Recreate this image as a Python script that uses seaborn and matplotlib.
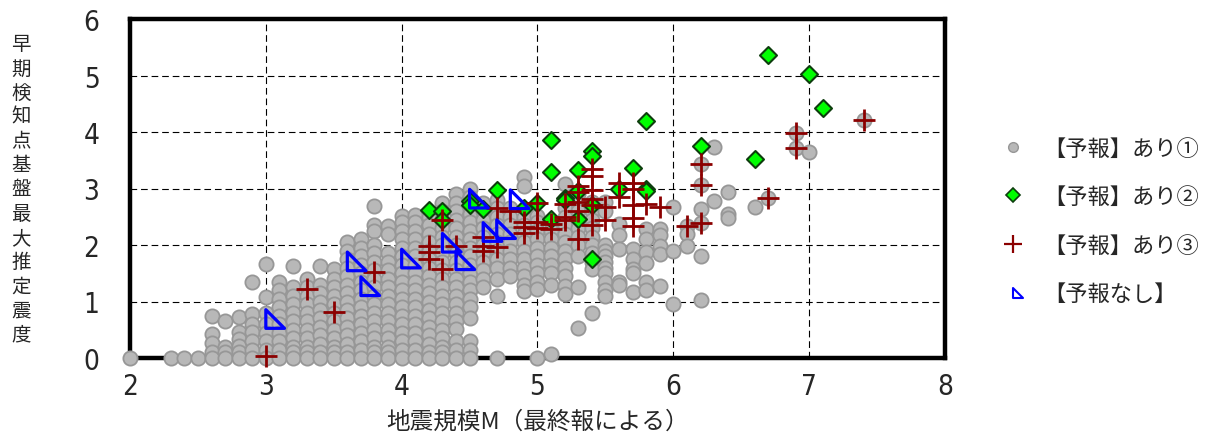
import numpy as np
import pandas as pd
import seaborn as sns
from matplotlib import pyplot as plt
from matplotlib import font_manager
from matplotlib.path import Path
from matplotlib.lines import Line2D

# gray dots: (magnitude, [intensities]) per column
gray_low = [
    (2.0, [0]), (2.3, [0]), (2.4, [0]), (2.5, [0]),
    (2.6, [0.74, 0.42, 0.27, 0.1, 0]),
    (2.7, [0.65, 0.19, 0.1, 0]),
    (2.8, [0.72, 0.46, 0.34, 0.21, 0.1, 0]),
    (2.9, [1.35, 0.78, 0.6, 0.46, 0.3, 0.15, 0]),
    (3.0, [1.66, 1.08, 0.8, 0.6, 0.45, 0.3, 0.15, 0]),
    (3.1, [1.35, 1.2, 1.05, 0.9, 0.75, 0.6, 0.45, 0.3, 0.15, 0]),
    (3.2, [1.63, 1.25, 1.1, 0.95, 0.8, 0.65, 0.5, 0.35, 0.2, 0.1, 0]),
    (3.3, [1.4, 1.25, 1.1, 0.95, 0.8, 0.65, 0.5, 0.35, 0.2, 0.1, 0]),
    (3.4, [1.63, 1.3, 1.15, 1.0, 0.85, 0.7, 0.55, 0.4, 0.25, 0.1, 0]),
    (3.5, [1.58, 1.4, 1.25, 1.1, 0.95, 0.8, 0.65, 0.5, 0.35, 0.2, 0.1, 0]),
]
gray_mid = [
    (3.6, [2.06, 1.9, 1.75, 1.6, 1.45, 1.3, 1.15, 1.0, 0.85, 0.7, 0.55, 0.4, 0.25, 0.1, 0]),
    (3.7, [2.1, 1.95, 1.8, 1.65, 1.5, 1.35, 1.2, 1.05, 0.9, 0.75, 0.6, 0.45, 0.3, 0.15, 0]),
    (3.8, [2.69, 2.35, 2.25, 2.0, 1.85, 1.7, 1.55, 1.4, 1.25, 1.1, 0.95, 0.8, 0.65, 0.5, 0.35, 0.2, 0.1, 0]),
    (3.9, [2.33, 2.2, 1.85, 1.7, 1.55, 1.4, 1.25, 1.1, 0.95, 0.8, 0.65, 0.5, 0.35, 0.2, 0.1, 0]),
    (4.0, [2.52, 2.4, 2.25, 2.1, 1.95, 1.8, 1.65, 1.5, 1.35, 1.2, 1.05, 0.9, 0.75, 0.6, 0.45, 0.3, 0.15, 0]),
    (4.1, [2.53, 2.4, 2.25, 2.1, 1.95, 1.8, 1.65, 1.5, 1.35, 1.2, 1.05, 0.9, 0.75, 0.6, 0.45, 0.3, 0.15, 0]),
    (4.2, [2.5, 2.35, 2.2, 2.05, 1.9, 1.75, 1.6, 1.45, 1.3, 1.15, 1.0, 0.85, 0.7, 0.55, 0.4, 0.25, 0.1, 0]),
    (4.3, [2.75, 2.6, 2.45, 2.3, 2.15, 2.0, 1.85, 1.7, 1.55, 1.4, 1.25, 1.1, 0.95, 0.8, 0.65, 0.5, 0.35, 0.2, 0.1, 0]),
    (4.4, [2.9, 2.75, 2.6, 2.45, 2.3, 2.15, 2.0, 1.85, 1.7, 1.55, 1.4, 1.25, 1.1, 0.95, 0.8, 0.65, 0.52, 0.3, 0.15, 0]),
    (4.5, [3.0, 2.85, 2.7, 2.55, 2.4, 2.25, 2.1, 1.95, 1.8, 1.65, 1.5, 1.35, 1.2, 1.05, 0.9, 0.7, 0.3, 0.15, 0]),
]
gray_upper = [
    (4.6, [2.75, 2.6, 2.45, 2.3, 2.15, 2.0, 1.85, 1.7, 1.55, 1.4, 1.25]),
    (4.7, [2.8, 2.65, 2.5, 2.35, 2.2, 2.05, 1.9, 1.75, 1.6, 1.4, 1.1, 0]),
    (4.8, [2.65, 2.5, 2.35, 2.2, 2.05, 1.9, 1.75, 1.6, 1.46]),
    (4.9, [3.2, 3.05, 2.5, 2.35, 2.2, 2.05, 1.9, 1.75, 1.6, 1.45, 1.3, 1.19]),
    (5.0, [2.52, 2.4, 2.25, 2.1, 1.95, 1.8, 1.65, 1.5, 1.35, 1.22, 0]),
    (5.1, [2.4, 2.25, 2.1, 1.95, 1.8, 1.65, 1.5, 1.3, 0.07]),
    (5.2, [3.08, 2.81, 2.65, 2.5, 2.35, 2.2, 2.05, 1.9, 1.75, 1.6, 1.45, 1.28, 1.13]),
    (5.3, [2.9, 2.75, 2.6, 2.45, 2.3, 2.15, 2.0, 1.81, 1.25, 0.53]),
    (5.4, [2.76, 2.6, 2.45, 2.3, 2.15, 2.0, 1.85, 1.7, 1.58, 0.8]),
    (5.5, [2.76, 2.6, 2.0, 1.9, 1.8, 1.7, 1.6, 1.5, 1.35, 1.2, 1.1]),
]
gray_high = [
    (5.6, [2.37, 2.17, 1.93, 1.35, 1.3]),
    (5.7, [1.93, 1.76, 1.58, 1.5, 1.17]),
    (5.8, [2.28, 2.1, 1.87, 1.69, 1.34, 1.2]),
    (5.9, [2.28, 2.17, 1.99, 1.84, 1.27]),
    (6.0, [2.67, 1.9, 0.96]),
    (6.1, [2.34, 2.2, 1.98]),
    (6.2, [3.44, 3.06, 2.63, 2.39, 1.8, 1.03]),
    (6.3, [3.74, 2.78]),
    (6.4, [2.93, 2.54, 2.47]),
    (6.6, [2.68]),
    (6.7, [2.83]),
    (6.9, [3.98, 3.71]),
    (7.0, [3.64]),
    (7.4, [4.22]),
]

# 【予報】あり②
dia_m = [4.2, 4.3, 4.3, 4.5, 4.5, 4.6, 4.7, 4.9, 5.0, 5.1, 5.1, 5.1, 5.2, 5.2, 5.3, 5.3,
         5.3, 5.4, 5.4, 5.4, 5.4, 5.6, 5.7, 5.8, 5.8, 5.8, 6.2, 6.6, 6.7, 7.0, 7.1]
dia_i = [2.62, 2.6, 2.45, 2.78, 2.7, 2.63, 2.97, 2.65, 2.74, 3.86, 3.3, 2.46, 2.83, 2.8, 3.33, 2.96,
         2.46, 3.66, 3.58, 2.7, 1.76, 3.0, 3.36, 4.2, 2.99, 2.95, 3.75, 3.52, 5.37, 5.02, 4.42]

# 【予報】あり③
plus_m = [3.0, 3.3, 3.5, 3.8, 4.2, 4.2, 4.2, 4.3, 4.3, 4.4, 4.6, 4.6, 4.6, 4.7, 4.7, 4.8,
          4.9, 4.9, 4.9, 5.0, 5.0, 5.0, 5.1, 5.1, 5.2, 5.2, 5.2, 5.3, 5.3, 5.3, 5.3, 5.3,
          5.4, 5.4, 5.4, 5.4, 5.4, 5.4, 5.5, 5.5, 5.6, 5.6, 5.7, 5.7, 5.7, 5.7, 5.7,
          5.8, 5.9, 6.1, 6.2, 6.2, 6.2, 6.7, 6.9, 6.9, 7.4]
plus_i = [0.03, 1.22, 0.82, 1.53, 1.99, 1.87, 1.75, 2.45, 1.58, 1.99, 2.14, 1.99, 1.9, 2.65, 1.96, 2.6,
          2.4, 2.32, 2.22, 2.75, 2.4, 2.3, 2.37, 2.28, 2.72, 2.5, 2.44, 3.05, 2.93, 2.76, 2.61, 2.1,
          3.35, 3.22, 2.98, 2.82, 2.71, 2.35, 2.67, 2.45, 3.1, 2.85, 3.1, 3.0, 2.71, 2.47, 2.33,
          2.73, 2.67, 2.34, 3.44, 3.06, 2.39, 2.83, 3.98, 3.71, 4.22]

# 【予報なし】
tri_m = [3.0, 3.6, 3.7, 4.0, 4.3, 4.4, 4.5, 4.6, 4.7, 4.8]
tri_i = [0.69, 1.71, 1.27, 1.76, 2.04, 1.73, 2.82, 2.23, 2.28, 2.81]

legend_labels = ['【予報】あり①', '【予報】あり②', '【予報】あり③', '【予報なし】']

gray = pd.DataFrame([(m, v) for cols in (gray_low, gray_mid, gray_upper, gray_high)
                     for m, vals in cols for v in vals], columns=['M', 'I'])

sns.set_style('white')
plt.rcParams['font.family'] = ['Noto Sans CJK JP', 'DejaVu Sans']

# narrow face for the tick numbers, if one is around
fonts = font_manager.fontManager.ttflist
narrow = [f.fname for f in fonts if f.name == 'Liberation Sans Narrow' and f.weight in (400, 'normal')]
if not narrow:
    narrow = [f.fname for f in fonts if 'Condensed' in f.fname and 'Bold' not in f.fname
              and 'Oblique' not in f.fname and 'Italic' not in f.fname]
if narrow:
    num_prop = font_manager.FontProperties(fname=narrow[0], size=20)
else:
    num_prop = font_manager.FontProperties(family='Noto Sans CJK JP', size=18)

# right-angle triangle, left edge on the point
tri_marker = Path([(0, 0.5), (0, -0.5), (1, -0.5), (0, 0.5)],
                  [Path.MOVETO, Path.LINETO, Path.LINETO, Path.CLOSEPOLY])

fig = plt.figure(figsize=(12.1, 4.39), dpi=100)
ax = fig.add_axes([130 / 1210, 1 - 359 / 439, 815 / 1210, 339 / 439])

sns.scatterplot(data=gray, x='M', y='I', ax=ax, marker='o', s=105, color='#b8b8b8',
                edgecolor='#979797', linewidth=1.3, zorder=5, clip_on=False)
sns.scatterplot(x=dia_m, y=dia_i, ax=ax, marker='D', s=75, color='#00ff00',
                edgecolor='#0d3d0d', linewidth=1.5, zorder=6, clip_on=False)
sns.scatterplot(x=plus_m, y=plus_i, ax=ax, marker='+', s=250, color='#8b0000',
                linewidth=2.0, zorder=7, clip_on=False)
sns.scatterplot(x=tri_m, y=tri_i, ax=ax, marker=tri_marker, s=720, facecolor='none',
                edgecolor='#0000ff', linewidth=2.3, zorder=8, clip_on=False)

ax.set_xlim(2, 8)
ax.set_ylim(0, 6)
ax.set_xticks(range(2, 9))
ax.set_yticks(range(0, 7))
ax.grid(True, color='black', linestyle=(0, (6, 3.5)), linewidth=0.8)
ax.set_axisbelow(True)
for sp in ax.spines.values():
    sp.set_visible(True)
    sp.set_color('black')
    sp.set_linewidth(3.2)
ax.tick_params(axis='both', direction='in', length=7, width=0.8, color='black')
ax.tick_params(axis='x', pad=10)
ax.tick_params(axis='y', pad=22)
for lab in ax.get_xticklabels() + ax.get_yticklabels():
    lab.set_fontproperties(num_prop)

ax.set_xlabel('地震規模M（最終報による）', fontsize=17, labelpad=7)
ax.set_ylabel('')
fig.text(21 / 1210, 1 - 190 / 439, '\n'.join('早期検知点基盤最大推定震度'), fontsize=14,
         ha='center', va='center', linespacing=1.2)

handles = [
    Line2D([], [], linestyle='none', marker='o', markersize=7, markerfacecolor='#b8b8b8',
           markeredgecolor='#979797', markeredgewidth=1),
    Line2D([], [], linestyle='none', marker='D', markersize=7, markerfacecolor='#00ff00',
           markeredgecolor='#0d3d0d', markeredgewidth=1.2),
    Line2D([], [], linestyle='none', marker='+', markersize=13, color='#8b0000',
           markeredgewidth=1.6),
    Line2D([], [], linestyle='none', marker=tri_marker, markersize=15, markerfacecolor='none',
           markeredgecolor='#0000ff', markeredgewidth=1.5),
]
fig.legend(handles, legend_labels, loc='center left', bbox_to_anchor=(982 / 1210, 1 - 222 / 439),
           frameon=False, fontsize=16, labelspacing=1.15, handlelength=1.0, handletextpad=0.85)

plt.savefig('out.png', dpi=100)
